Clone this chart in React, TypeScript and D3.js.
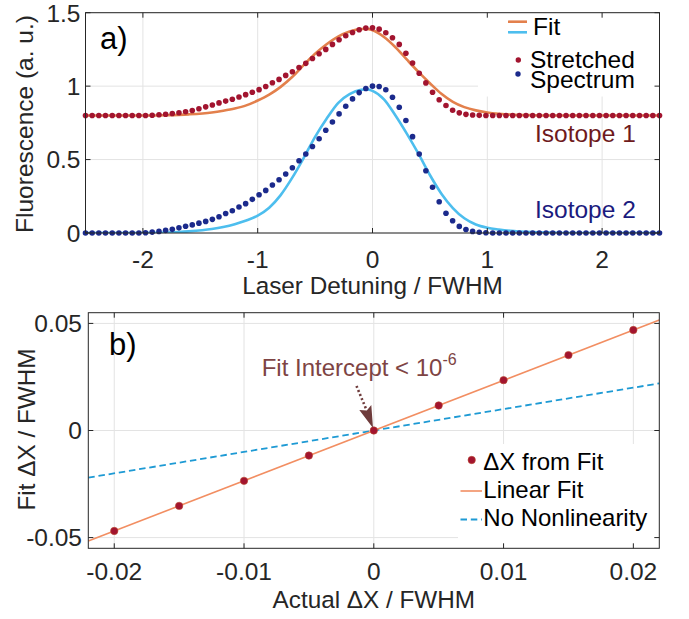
import React from 'react';
import * as d3 from 'd3';

// ---------- Panel a) data ----------
const dotX = [
  -2.5, -2.442, -2.384, -2.326, -2.267, -2.209, -2.151, -2.093, -2.035, -1.977,
  -1.919, -1.86, -1.802, -1.744, -1.686, -1.628, -1.57, -1.512, -1.453, -1.395,
  -1.337, -1.279, -1.221, -1.163, -1.105, -1.047, -0.988, -0.93, -0.872, -0.814,
  -0.756, -0.698, -0.64, -0.581, -0.523, -0.465, -0.407, -0.349, -0.291, -0.233,
  -0.174, -0.116, -0.058, 0.0, 0.058, 0.116, 0.174, 0.233, 0.291, 0.349,
  0.407, 0.465, 0.523, 0.581, 0.64, 0.698, 0.756, 0.814, 0.872, 0.93,
  0.988, 1.047, 1.105, 1.163, 1.221, 1.279, 1.337, 1.395, 1.453, 1.512,
  1.57, 1.628, 1.686, 1.744, 1.802, 1.86, 1.919, 1.977, 2.035, 2.093,
  2.151, 2.209, 2.267, 2.326, 2.384, 2.442, 2.5,
];
const isotope1Dots = [
  0.8, 0.8, 0.8, 0.8, 0.8, 0.8, 0.8, 0.8, 0.8, 0.8,
  0.802, 0.805, 0.809, 0.814, 0.819, 0.826, 0.834, 0.846, 0.859, 0.872,
  0.886, 0.898, 0.911, 0.926, 0.942, 0.958, 0.976, 0.998, 1.023, 1.046,
  1.073, 1.098, 1.127, 1.155, 1.188, 1.22, 1.25, 1.284, 1.316, 1.343,
  1.365, 1.384, 1.395, 1.397, 1.388, 1.363, 1.329, 1.284, 1.224, 1.158,
  1.088, 1.022, 0.958, 0.907, 0.868, 0.836, 0.818, 0.808, 0.803, 0.801,
  0.8, 0.8, 0.8, 0.8, 0.8, 0.8, 0.8, 0.8, 0.8, 0.8,
  0.8, 0.8, 0.8, 0.8, 0.8, 0.8, 0.8, 0.8, 0.8, 0.8,
  0.8, 0.8, 0.8, 0.8, 0.8, 0.8, 0.8,
];
const isotope2Dots = [
  0, 0, 0, 0, 0, 0, 0, 0, 0, 0.002,
  0.006, 0.011, 0.018, 0.025, 0.035, 0.046, 0.055, 0.067, 0.079, 0.093,
  0.111, 0.133, 0.152, 0.177, 0.2, 0.229, 0.26, 0.29, 0.327, 0.363,
  0.402, 0.444, 0.492, 0.538, 0.589, 0.642, 0.7, 0.756, 0.811, 0.863,
  0.913, 0.956, 0.984, 1.0, 0.997, 0.975, 0.924, 0.856, 0.766, 0.656,
  0.538, 0.424, 0.311, 0.213, 0.134, 0.083, 0.045, 0.024, 0.011, 0.005,
  0.002, 0, 0, 0, 0, 0, 0, 0, 0, 0,
  0, 0, 0, 0, 0, 0, 0, 0, 0, 0,
  0, 0, 0, 0, 0, 0, 0,
];
const fit1X = [-2.5, -2.0, -1.8, -1.6, -1.4, -1.3, -1.2, -1.1, -1.0, -0.9, -0.8, -0.7, -0.6, -0.5, -0.4, -0.3, -0.2, -0.1, -0.05, 0, 0.1, 0.2, 0.3, 0.4, 0.5, 0.6, 0.7, 0.8, 0.9, 1.0, 1.1, 1.2, 1.4, 1.6, 2.5];
const fit1Y = [0.8, 0.8, 0.802, 0.808, 0.821, 0.833, 0.848, 0.869, 0.902, 0.942, 0.995, 1.062, 1.143, 1.22, 1.285, 1.337, 1.372, 1.389, 1.39, 1.38, 1.335, 1.265, 1.18, 1.097, 1.02, 0.948, 0.893, 0.857, 0.835, 0.821, 0.812, 0.806, 0.802, 0.8, 0.8];
const fit2X = [-2.5, -2.0, -1.8, -1.6, -1.4, -1.3, -1.2, -1.1, -1.0, -0.9, -0.8, -0.7, -0.6, -0.5, -0.4, -0.3, -0.2, -0.1, -0.05, 0, 0.1, 0.2, 0.3, 0.4, 0.5, 0.6, 0.7, 0.8, 0.9, 1.0, 1.1, 1.2, 1.4, 1.6, 1.8, 2.5];
const fit2Y = [0, 0, 0.003, 0.011, 0.027, 0.041, 0.06, 0.085, 0.118, 0.172, 0.258, 0.375, 0.51, 0.655, 0.778, 0.885, 0.945, 0.975, 0.978, 0.968, 0.91, 0.8, 0.675, 0.54, 0.395, 0.268, 0.17, 0.1, 0.058, 0.036, 0.024, 0.015, 0.006, 0.002, 0, 0];
const topXTicks = [-2, -1, 0, 1, 2];
const topXTickLabels = ['-2', '-1', '0', '1', '2'];
const topYTicks = [0, 0.5, 1, 1.5];
const topYTickLabels = ['0', '0.5', '1', '1.5'];

// ---------- Panel b) data ----------
const actualDX = [-0.02, -0.015, -0.01, -0.005, 0, 0.005, 0.01, 0.015, 0.02];
const fitDX = [-0.0469, -0.0352, -0.0235, -0.0117, 0, 0.0117, 0.0235, 0.0352, 0.0469];
const linFitX = [-0.022, 0.022];
const linFitY = [-0.0516, 0.0516];
const noNonlinX = [-0.022, 0.022];
const noNonlinY = [-0.022, 0.022];
const botXTicks = [-0.02, -0.01, 0, 0.01, 0.02];
const botXTickLabels = ['-0.02', '-0.01', '0', '0.01', '0.02'];
const botYTicks = [-0.05, 0, 0.05];
const botYTickLabels = ['-0.05', '0', '0.05'];

const FONT = '"Liberation Sans", Arial, Helvetica, sans-serif';
const AXIS = '#262626';
const GRID = '#e3e3e3';
const RED = '#A2142F';
const NAVY = '#1B2A8C';
const ORANGE = '#E3804C';
const CYAN = '#4DBEEE';
const LINFIT = '#F28E62';
const DASH = '#1E9AD4';
const ANNOT = '#7E4444';
const TICKFS = 24.5;
const LABELFS = 24.3;

export default function App() {
  // Panel a scales
  const ax = d3.scaleLinear().domain([-2.5, 2.5]).range([85.5, 659.5]);
  const ay = d3.scaleLinear().domain([0, 1.5]).range([233, 12.7]);
  // Panel b scales
  const bx = d3.scaleLinear().domain([-0.022, 0.022]).range([88.3, 659.3]);
  const by = d3.scaleLinear().domain([-0.055, 0.055]).range([548.3, 312.7]);

  const lineA = d3
    .line<[number, number]>()
    .x((d) => ax(d[0]))
    .y((d) => ay(d[1]))
    .curve(d3.curveMonotoneX);
  const lineB = d3
    .line<[number, number]>()
    .x((d) => bx(d[0]))
    .y((d) => by(d[1]));

  const fit1 = fit1X.map((x, i) => [x, fit1Y[i]] as [number, number]);
  const fit2 = fit2X.map((x, i) => [x, fit2Y[i]] as [number, number]);
  const lin = linFitX.map((x, i) => [x, linFitY[i]] as [number, number]);
  const noNl = noNonlinX.map((x, i) => [x, noNonlinY[i]] as [number, number]);

  const [aL, aR] = ax.range();
  const [aB, aT] = ay.range();
  const [bL, bR] = bx.range();
  const [bB, bT] = by.range();
  const tick = 5;

  // arrow target (fit intercept point)
  const tx = bx(0);
  const ty = by(0);

  return (
    <svg
      width={689}
      height={619}
      style={{ position: 'absolute', left: 0, top: 0, background: '#fff' }}
      fontFamily={FONT}
    >
      <defs>
        <clipPath id="clipA">
          <rect x={aL} y={aT} width={aR - aL} height={aB - aT} />
        </clipPath>
        <clipPath id="clipB">
          <rect x={bL} y={bT} width={bR - bL} height={bB - bT} />
        </clipPath>
      </defs>
      <rect x={0} y={0} width={689} height={619} fill="#fff" />

      {/* ================= Panel a ================= */}
      <g>
        {topXTicks.map((t) => (
          <line key={'agx' + t} x1={ax(t)} x2={ax(t)} y1={aT} y2={aB} stroke={GRID} strokeWidth={1} />
        ))}
        {topYTicks.map((t) => (
          <line key={'agy' + t} x1={aL} x2={aR} y1={ay(t)} y2={ay(t)} stroke={GRID} strokeWidth={1} />
        ))}
        <g clipPath="url(#clipA)">
          <path d={lineA(fit1) || ''} fill="none" stroke={ORANGE} strokeWidth={2.6} />
          <path d={lineA(fit2) || ''} fill="none" stroke={CYAN} strokeWidth={2.6} />
        </g>
        {dotX.map((x, i) => (
          <circle key={'r' + i} cx={ax(x)} cy={ay(isotope1Dots[i])} r={2.8} fill={RED} />
        ))}
        {dotX.map((x, i) => (
          <circle key={'b' + i} cx={ax(x)} cy={ay(isotope2Dots[i])} r={2.8} fill={NAVY} />
        ))}

        {/* legend */}
        <rect x={478} y={aT + 0.5} width={aR - 478 - 0.5} height={96 - aT} fill="#fff" />
        <line x1={508} x2={527} y1={21.7} y2={21.7} stroke={ORANGE} strokeWidth={2.6} />
        <line x1={508} x2={527} y1={32.3} y2={32.3} stroke={CYAN} strokeWidth={2.6} />
        <text x={533} y={34.5} fontSize={24.5} fill="#000">Fit</text>
        <circle cx={518.3} cy={60} r={2.7} fill={RED} />
        <circle cx={518} cy={74} r={2.7} fill={NAVY} />
        <text x={530} y={68.3} fontSize={24.5} fill="#000">Stretched</text>
        <text x={530} y={88.3} fontSize={24.5} fill="#000">Spectrum</text>

        <text x={535} y={141.7} fontSize={24.5} fill="#6E1A1C">Isotope 1</text>
        <text x={535} y={218.3} fontSize={24.5} fill="#1B1B7E">Isotope 2</text>

        {/* axes box */}
        <rect x={aL} y={aT} width={aR - aL} height={aB - aT} fill="none" stroke={AXIS} strokeWidth={1} />
        {topXTicks.map((t) => (
          <g key={'axt' + t}>
            <line x1={ax(t)} x2={ax(t)} y1={aB} y2={aB - tick} stroke={AXIS} />
            <line x1={ax(t)} x2={ax(t)} y1={aT} y2={aT + tick} stroke={AXIS} />
          </g>
        ))}
        {topYTicks.map((t) => (
          <g key={'ayt' + t}>
            <line x1={aL} x2={aL + tick} y1={ay(t)} y2={ay(t)} stroke={AXIS} />
            <line x1={aR} x2={aR - tick} y1={ay(t)} y2={ay(t)} stroke={AXIS} />
          </g>
        ))}
        {topXTicks.map((t, i) => (
          <text key={'axl' + t} x={ax(t)} y={268} fontSize={TICKFS} textAnchor="middle" fill={AXIS}>
            {topXTickLabels[i]}
          </text>
        ))}
        {topYTicks.map((t, i) => (
          <text key={'ayl' + t} x={80.5} y={ay(t)} dy="0.36em" fontSize={TICKFS} textAnchor="end" fill={AXIS}>
            {topYTickLabels[i]}
          </text>
        ))}
        <text x={(aL + aR) / 2} y={293.5} fontSize={LABELFS} textAnchor="middle" fill={AXIS}>
          Laser Detuning / FWHM
        </text>
        <text transform="translate(33.3,124) rotate(-90)" fontSize={24.5} textAnchor="middle" fill={AXIS}>
          Fluorescence (a. u.)
        </text>
        <text x={100} y={49} fontSize={31} fill="#000">a)</text>
      </g>

      {/* ================= Panel b ================= */}
      <g>
        {botXTicks.map((t) => (
          <line key={'bgx' + t} x1={bx(t)} x2={bx(t)} y1={bT} y2={bB} stroke={GRID} strokeWidth={1} />
        ))}
        {botYTicks.map((t) => (
          <line key={'bgy' + t} x1={bL} x2={bR} y1={by(t)} y2={by(t)} stroke={GRID} strokeWidth={1} />
        ))}
        <g clipPath="url(#clipB)">
          <path d={lineB(noNl) || ''} fill="none" stroke={DASH} strokeWidth={1.8} strokeDasharray="6.5,3.8" />
          <path d={lineB(lin) || ''} fill="none" stroke={LINFIT} strokeWidth={1.6} />
        </g>
        {actualDX.map((x, i) => (
          <circle key={'d' + i} cx={bx(x)} cy={by(fitDX[i])} r={3.7} fill={RED} stroke="#B8452C" strokeWidth={0.6} />
        ))}

        {/* annotation */}
        <text x={261.7} y={376} fontSize={24} fill={ANNOT}>
          Fit Intercept &lt; 10
          <tspan fontSize={16} dy={-11}>-6</tspan>
        </text>
        <line
          x1={tx - 17.3}
          y1={ty - 44.5}
          x2={tx - 7.5}
          y2={ty - 21}
          stroke="#6E3B3B"
          strokeWidth={2.6}
          strokeDasharray="2,2.4"
        />
        <path
          d={`M${tx - 0.8},${ty - 2.5} L${tx - 14.5},${ty - 20.5} L${tx - 7},${ty - 20} L${tx - 2.5},${ty - 25.5} Z`}
          fill="#6E3B3B"
        />

        {/* legend */}
        <rect x={458} y={444} width={bR - 458 - 0.5} height={bB - 444 - 0.5} fill="#fff" />
        <circle cx={471.7} cy={460} r={3.7} fill={RED} stroke="#B8452C" strokeWidth={0.6} />
        <text x={483.3} y={470} fontSize={24} fill="#000">ΔX from Fit</text>
        <line x1={460.5} x2={482} y1={491} y2={491} stroke={LINFIT} strokeWidth={1.6} />
        <text x={483.3} y={498.3} fontSize={24} fill="#000">Linear Fit</text>
        <line x1={460.5} x2={482} y1={519.5} y2={519.5} stroke={DASH} strokeWidth={1.8} strokeDasharray="6.5,3.8" />
        <text x={483.3} y={526} fontSize={24} fill="#000">No Nonlinearity</text>

        {/* axes box */}
        <rect x={bL} y={bT} width={bR - bL} height={bB - bT} fill="none" stroke={AXIS} strokeWidth={1} />
        {botXTicks.map((t) => (
          <g key={'bxt' + t}>
            <line x1={bx(t)} x2={bx(t)} y1={bB} y2={bB - tick} stroke={AXIS} />
            <line x1={bx(t)} x2={bx(t)} y1={bT} y2={bT + tick} stroke={AXIS} />
          </g>
        ))}
        {botYTicks.map((t) => (
          <g key={'byt' + t}>
            <line x1={bL} x2={bL + tick} y1={by(t)} y2={by(t)} stroke={AXIS} />
            <line x1={bR} x2={bR - tick} y1={by(t)} y2={by(t)} stroke={AXIS} />
          </g>
        ))}
        {botXTicks.map((t, i) => (
          <text key={'bxl' + t} x={bx(t)} y={580} fontSize={TICKFS} textAnchor="middle" fill={AXIS}>
            {botXTickLabels[i]}
          </text>
        ))}
        {botYTicks.map((t, i) => (
          <text key={'byl' + t} x={82} y={by(t)} dy="0.36em" fontSize={TICKFS} textAnchor="end" fill={AXIS}>
            {botYTickLabels[i]}
          </text>
        ))}
        <text x={(bL + bR) / 2} y={608} fontSize={LABELFS} textAnchor="middle" fill={AXIS}>
          Actual ΔX / FWHM
        </text>
        <text transform="translate(35,429.5) rotate(-90)" fontSize={LABELFS} textAnchor="middle" fill={AXIS}>
          Fit ΔX / FWHM
        </text>
        <text x={109} y={355} fontSize={31} fill="#000">b)</text>
      </g>
    </svg>
  );
}
